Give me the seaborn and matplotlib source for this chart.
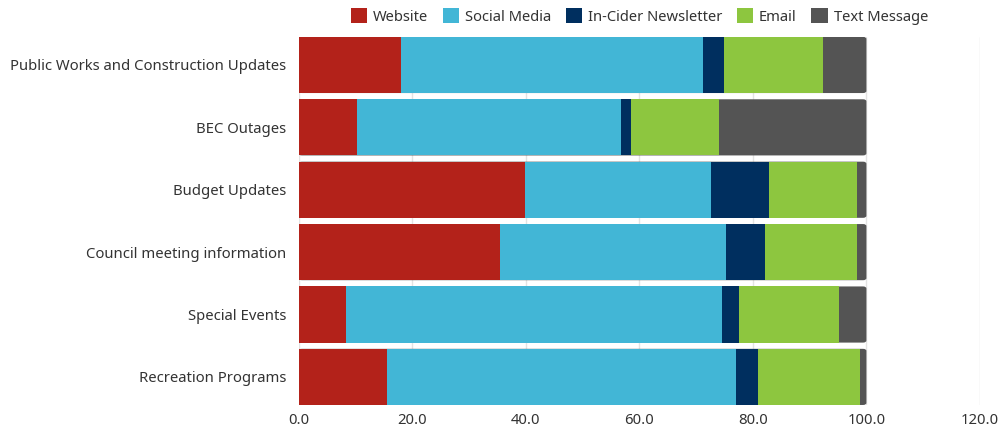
import matplotlib
matplotlib.use("Agg")
import matplotlib.pyplot as plt
from matplotlib.patches import FancyBboxPatch, Patch
import numpy as np
import pandas as pd
import seaborn as sns

categories = [
    "Public Works and Construction Updates",
    "BEC Outages",
    "Budget Updates",
    "Council meeting information",
    "Special Events",
    "Recreation Programs",
]
series_names = ["Website", "Social Media", "In-Cider Newsletter", "Email", "Text Message"]
website = [18.0, 10.3, 39.8, 35.4, 8.4, 15.5]
social_media = [53.3, 46.4, 32.9, 39.9, 66.1, 61.6]
newsletter = [3.7, 1.9, 10.1, 6.9, 3.1, 3.8]
email = [17.4, 15.4, 15.6, 16.2, 17.5, 18.0]
text_message = [7.6, 26.0, 1.6, 1.6, 4.9, 1.1]
x_ticks = [0, 20, 40, 60, 80, 100, 120]

colors = ["#B3221A", "#42B6D6", "#002F5F", "#8DC63F", "#545454"]

sns.set_theme(style="white")
plt.rcParams["font.family"] = ["Noto Sans", "DejaVu Sans"]

df = pd.DataFrame({
    "category": categories,
    "Website": website,
    "Social Media": social_media,
    "In-Cider Newsletter": newsletter,
    "Email": email,
    "Text Message": text_message,
})

fig = plt.figure(figsize=(10, 4.29), dpi=100)
ax = fig.add_axes([0.2985, 0.056, 0.6815, 0.858])

# stacked bars: draw cumulative totals from the outermost segment inward
cum = df[series_names].cumsum(axis=1)
for name, color in reversed(list(zip(series_names, colors))):
    sns.barplot(x=cum[name], y=df["category"], color=color, orient="h",
                width=0.9, ax=ax, saturation=1, linewidth=0, edgecolor="none")

# round the right end of the full bars (first drawn layer)
n = len(categories)
end_patches = ax.patches[:n]
for p in end_patches:
    x0, y0 = p.get_x(), p.get_y()
    w, h = p.get_width(), p.get_height()
    p.set_visible(False)
    rb = FancyBboxPatch((x0, y0), w, h,
                        boxstyle="round,pad=0,rounding_size=0.6",
                        mutation_aspect=0.055,
                        facecolor=colors[-1], edgecolor="none", zorder=0.9)
    ax.add_patch(rb)

ax.set_xlim(0, 120)
ax.set_ylim(n - 1 + 0.45, -0.45)
ax.set_xticks(x_ticks)
ax.set_xticklabels([f"{v:.1f}" for v in x_ticks])
ax.set_xlabel("")
ax.set_ylabel("")
ax.xaxis.grid(True, color="#E3E3E3", linewidth=1)
ax.set_axisbelow(True)
for s in ax.spines.values():
    s.set_visible(False)
ax.tick_params(axis="both", length=0, labelsize=10.7, colors="#333333")
ax.tick_params(axis="y", pad=9)
ax.tick_params(axis="x", pad=6)

handles = [Patch(facecolor=c, edgecolor="none", label=nm) for nm, c in zip(series_names, colors)]
ax.legend(handles=handles, loc="center", bbox_to_anchor=(0.5, 1.056), ncol=5,
          frameon=False, fontsize=10.6, handlelength=1.1, handleheight=1.2,
          handletextpad=0.4, columnspacing=1.0, labelcolor="#333333")

fig.savefig("out.png", dpi=100)
